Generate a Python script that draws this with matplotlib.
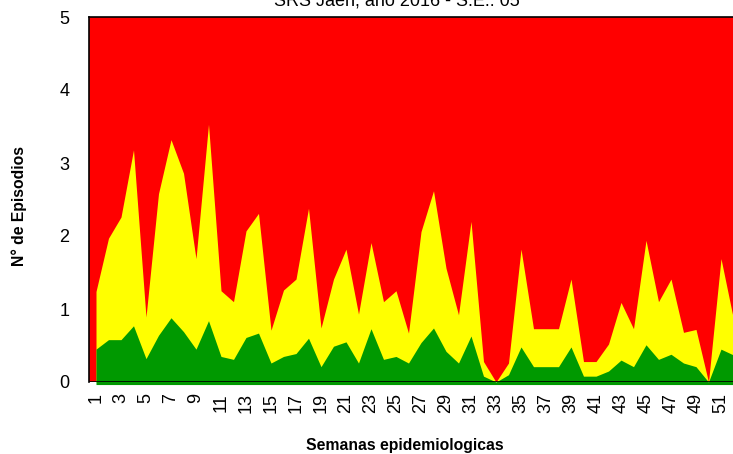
import matplotlib
matplotlib.use('Agg')
import matplotlib.pyplot as plt
import numpy as np

# semanas epidemiologicas 1..52
semanas = np.arange(1, 53)

# limite inferior (verde) y superior (amarillo)
verde = [0.45, 0.58, 0.58, 0.77, 0.32, 0.64, 0.88, 0.69, 0.45, 0.84,
         0.35, 0.31, 0.61, 0.67, 0.26, 0.35, 0.39, 0.60, 0.21, 0.49,
         0.55, 0.26, 0.73, 0.31, 0.35, 0.26, 0.54, 0.74, 0.42, 0.26,
         0.63, 0.08, 0.00, 0.10, 0.48, 0.21, 0.21, 0.21, 0.48, 0.08,
         0.08, 0.15, 0.30, 0.21, 0.51, 0.31, 0.38, 0.26, 0.21, 0.00,
         0.45, 0.37]
amarillo = [1.24, 1.97, 2.26, 3.18, 0.89, 2.58, 3.32, 2.86, 1.69, 3.53,
            1.25, 1.10, 2.07, 2.31, 0.71, 1.26, 1.41, 2.38, 0.74, 1.41,
            1.82, 0.93, 1.91, 1.10, 1.25, 0.67, 2.06, 2.62, 1.56, 0.92,
            2.20, 0.28, 0.00, 0.26, 1.82, 0.73, 0.73, 0.73, 1.41, 0.28,
            0.28, 0.52, 1.09, 0.73, 1.94, 1.10, 1.41, 0.68, 0.72, 0.00,
            1.69, 0.86]
maximo = 5

plt.rcParams['font.family'] = ['Liberation Sans', 'DejaVu Sans']

fig = plt.figure(figsize=(7.33, 4.54), dpi=100)
ax = fig.add_axes([89 / 733, 72 / 454, 651.5 / 733, 365 / 454])

x0, x1 = 0.44, 52.56
ax.fill_between([x0, x1], 0, maximo, color='#ff0000', lw=0)
ax.fill_between(semanas, 0, amarillo, color='#ffff00', lw=0)
ax.fill_between(semanas, -0.035, verde, color='#009900', lw=0, clip_on=False)
ax.axhline(0, color='black', lw=1.2)

ax.set_xlim(x0, x1)
ax.set_ylim(0, maximo)
ax.spines['bottom'].set_visible(False)
for s in ['left', 'top', 'right']:
    ax.spines[s].set_linewidth(1.2)

ax.set_xticks(semanas[::2])
ax.set_xticklabels([str(s) for s in semanas[::2]], rotation=90)
ax.set_yticks(range(0, 6))
ax.tick_params(axis='both', length=0, labelsize=13)
ax.tick_params(axis='y', pad=14)
ax.tick_params(axis='x', pad=8)

ax.set_xlabel('Semanas epidemiologicas', fontweight='bold', fontsize=11.3)
ax.xaxis.set_label_coords(0.485, -0.175)
ax.xaxis.label.set_va('center')
ax.set_ylabel('N° de Episodios', fontweight='bold', fontsize=11.3)
ax.yaxis.set_label_coords(-0.107, 0.482)
ax.yaxis.label.set_va('center')

fig.text(397 / 733, 1 - 1 / 454, 'SRS Jaén, año 2016 - S.E.: 05',
         ha='center', va='center', fontsize=13)

fig.savefig('out.png', dpi=100)
